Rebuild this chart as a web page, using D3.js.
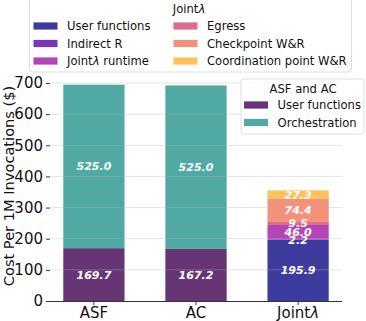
<!DOCTYPE html>
<html>
<head>
<meta charset="utf-8">
<script src="https://cdn.jsdelivr.net/npm/d3@7"></script>
<style>
  body { margin: 0; background: #fff; }
  svg { display: block; font-family: "DejaVu Sans", sans-serif; }
</style>
</head>
<body>
<svg id="chart" width="366" height="321"></svg>
<script>
// data
var categories = ["ASF", "AC", "Jointλ"];
var asfAcSeries = ["User functions", "Orchestration"];
var asfValues = [169.7, 525.0];
var acValues = [167.2, 525.0];
var jointSeries = ["User functions", "Indirect R", "Jointλ runtime", "Egress", "Checkpoint W&R", "Coordination point W&R"];
var jointValues = [195.9, 2.2, 46.0, 9.5, 74.4, 27.3];
var yTicks = [0, 100, 200, 300, 400, 500, 600, 700];

var asfAcColors = ["#673576", "#50a9a3"];
var jointColors = ["#3e3b9f", "#7a35b8", "#b445b5", "#d96d90", "#f39279", "#fdc25b"];

var svg = d3.select("#chart");

var x = d3.scaleBand()
  .domain(categories)
  .range([50, 342])
  .paddingInner(0.4)
  .paddingOuter(0.13);

var y = d3.scaleLinear()
  .domain([0, 700])
  .range([301, 83]);

// stack each bar from its own series
function stackUp(values) {
  var acc = 0;
  return values.map(function (v, i) {
    var s = { i: i, v: v, y0: acc, y1: acc + v };
    acc += v;
    return s;
  });
}

var bars = [
  { cat: "ASF", segs: stackUp(asfValues), colors: asfAcColors },
  { cat: "AC", segs: stackUp(acValues), colors: asfAcColors },
  { cat: "Jointλ", segs: stackUp(jointValues), colors: jointColors }
];

var barG = svg.append("g");
bars.forEach(function (b) {
  barG.selectAll(null).data(b.segs).enter().append("rect")
    .attr("x", x(b.cat))
    .attr("width", x.bandwidth())
    .attr("y", function (d) { return y(d.y1); })
    .attr("height", function (d) { return y(d.y0) - y(d.y1); })
    .attr("fill", function (d) { return b.colors[d.i]; });
});

// grid drawn over the bars, faint
svg.append("g").selectAll("line").data(yTicks.slice(1)).enter().append("line")
  .attr("x1", 50).attr("x2", 342)
  .attr("y1", function (d) { return y(d); })
  .attr("y2", function (d) { return y(d); })
  .attr("stroke", "#b0b0b0")
  .attr("stroke-opacity", 0.45)
  .attr("stroke-width", 0.8);

// value labels
var labelG = svg.append("g");
bars.forEach(function (b) {
  labelG.selectAll(null).data(b.segs).enter().append("text")
    .attr("x", x(b.cat) + x.bandwidth() / 2)
    .attr("y", function (d) { return y((d.y0 + d.y1) / 2); })
    .attr("dy", "0.36em")
    .attr("text-anchor", "middle")
    .attr("fill", "#fff")
    .style("font-size", "11px")
    .style("font-weight", "bold")
    .style("font-style", "italic")
    .text(function (d) { return d.v.toFixed(1); });
});

// y axis, no spine
var yAxis = svg.append("g")
  .attr("transform", "translate(50,0)")
  .call(d3.axisLeft(y).tickValues(yTicks).tickSize(4).tickPadding(3));
yAxis.select(".domain").remove();
yAxis.selectAll(".tick line").attr("stroke", "#333");
yAxis.selectAll("text").style("font-size", "15px").attr("fill", "#111")
  .style("font-family", "DejaVu Sans");

// x axis
var xAxis = svg.append("g")
  .attr("transform", "translate(0,301)")
  .call(d3.axisBottom(x).tickSize(4).tickPadding(2).tickSizeOuter(0));
xAxis.select(".domain").attr("stroke", "#333").attr("d", "M50,0.5H342");
xAxis.selectAll(".tick line").attr("stroke", "#333");
xAxis.selectAll("text").style("font-size", "15px").attr("fill", "#111")
  .style("font-family", "DejaVu Sans")
  .each(function (d) {
    if (d === "Jointλ") {
      var t = d3.select(this).text("Joint");
      t.append("tspan").style("font-style", "italic").text("λ");
    }
  });

svg.append("text")
  .attr("transform", "translate(14,186) rotate(-90)")
  .attr("text-anchor", "middle")
  .style("font-size", "14.6px")
  .attr("fill", "#111")
  .text("Cost Per 1M Invocations ($)");

// legends
function legendBox(g, bx, by, bw, bh) {
  g.append("rect")
    .attr("x", bx).attr("y", by).attr("width", bw).attr("height", bh)
    .attr("rx", 3)
    .attr("fill", "#fff").attr("fill-opacity", 0.85)
    .attr("stroke", "#d6d6d6").attr("stroke-width", 0.8);
}

var legFont = "11.6px";

var leg1 = svg.append("g");
legendBox(leg1, 29.5, -2, 322, 74);
leg1.append("text")
  .attr("x", 189).attr("y", 13)
  .attr("text-anchor", "middle")
  .style("font-size", legFont)
  .attr("fill", "#111")
  .text("Joint")
  .append("tspan").style("font-style", "italic").text("λ");

var leg1Items = leg1.selectAll("g.item").data(jointSeries).enter().append("g")
  .attr("class", "item")
  .attr("transform", function (d, i) {
    var col = Math.floor(i / 3), row = i % 3;
    return "translate(" + (33.5 + col * 140) + "," + (26 + row * 17.5) + ")";
  });
leg1Items.append("rect")
  .attr("x", 0).attr("y", -3.6).attr("width", 24).attr("height", 7.2)
  .attr("fill", function (d, i) { return jointColors[i]; });
leg1Items.append("text")
  .attr("x", 33.5).attr("dy", "0.36em")
  .style("font-size", legFont)
  .attr("fill", "#111")
  .each(function (d) {
    var t = d3.select(this);
    if (d.indexOf("λ") >= 0) {
      t.text("Joint");
      t.append("tspan").style("font-style", "italic").text("λ");
      t.append("tspan").text(" runtime");
    } else {
      t.text(d);
    }
  });

var leg2 = svg.append("g");
legendBox(leg2, 241, 79, 123, 55);
leg2.append("text")
  .attr("x", 303).attr("y", 93)
  .attr("text-anchor", "middle")
  .style("font-size", legFont)
  .attr("fill", "#111")
  .text("ASF and AC");
var leg2Items = leg2.selectAll("g.item").data(asfAcSeries).enter().append("g")
  .attr("class", "item")
  .attr("transform", function (d, i) { return "translate(244," + (105 + i * 17.5) + ")"; });
leg2Items.append("rect")
  .attr("x", 0).attr("y", -3.6).attr("width", 24).attr("height", 7.2)
  .attr("fill", function (d, i) { return asfAcColors[i]; });
leg2Items.append("text")
  .attr("x", 33.5).attr("dy", "0.36em")
  .style("font-size", legFont)
  .attr("fill", "#111")
  .text(function (d) { return d; });
</script>
</body>
</html>
